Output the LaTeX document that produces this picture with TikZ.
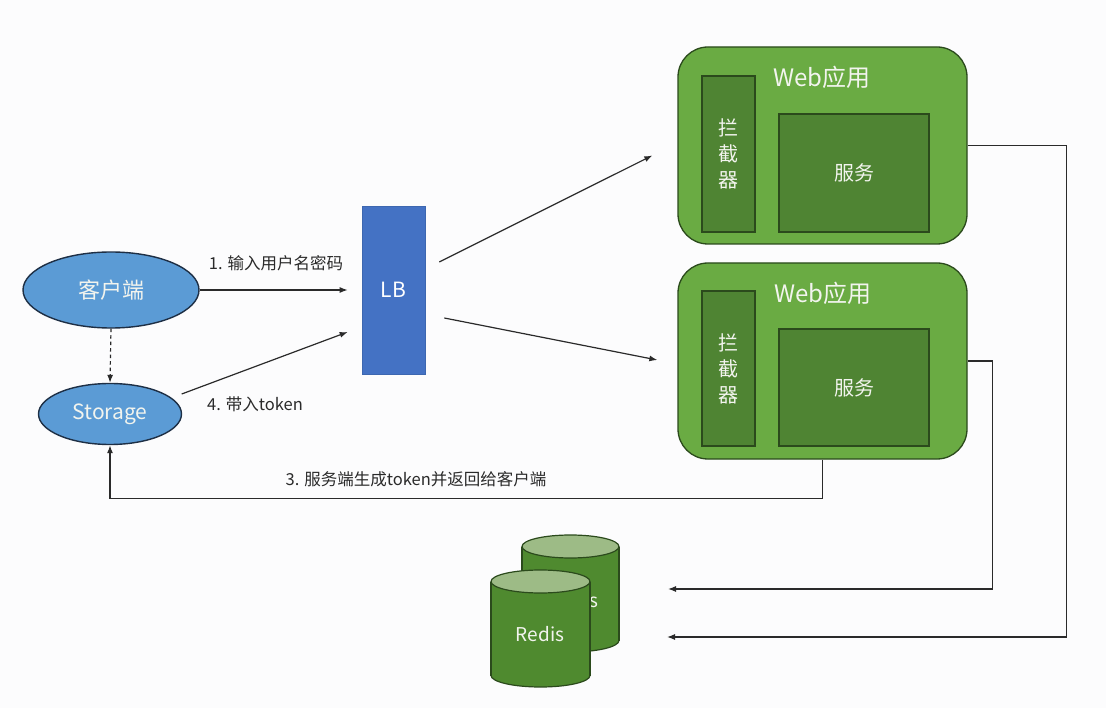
\documentclass[tikz,border=0pt]{standalone}
\usepackage{fontspec}
\setmainfont{Noto Sans CJK SC}
\usetikzlibrary{arrows.meta,calc,shapes.geometric}
\definecolor{bgc}{HTML}{FCFCFD}
\definecolor{ellfill}{HTML}{5B9BD5}
\definecolor{ellline}{HTML}{1E2F45}
\definecolor{lbfill}{HTML}{4472C4}
\definecolor{webfill}{HTML}{6AAB43}
\definecolor{webline}{HTML}{2B4A1C}
\definecolor{innerfill}{HTML}{4F8433}
\definecolor{cylbody}{HTML}{4F8A2F}
\definecolor{cyltop}{HTML}{9DBB86}
\definecolor{linec}{HTML}{2A2A2A}
\definecolor{labc}{HTML}{2A2A2A}
\definecolor{wtxt}{HTML}{F2F4EE}
\begin{document}
\begin{tikzpicture}[x=1pt,y=-1pt,
  ellnode/.style={ellipse,draw=ellline,line width=1.4pt,fill=ellfill,inner sep=0pt,text=wtxt},
  lbbox/.style={rectangle,fill=lbfill,draw=lbfill!90!black,line width=0.6pt,inner sep=0pt,minimum width=63pt,minimum height=168pt,text=white,font=\fontsize{21}{24}\selectfont},
  webbox/.style={rectangle,rounded corners=30pt,fill=webfill,draw=webline,line width=1.3pt,inner sep=0pt,minimum width=289pt},
  innerbox/.style={rectangle,fill=innerfill,draw=webline,line width=1.1pt,inner sep=0pt,text=wtxt,font=\fontsize{20}{26}\selectfont,align=center},
  webtitle/.style={text=wtxt,font=\fontsize{24}{28}\selectfont,inner sep=0pt},
  arr/.style={draw=linec,line width=1.2pt,-{Latex[length=8pt,width=6pt]}},
  lab/.style={text=labc,font=\fontsize{16.5}{19}\selectfont,inner sep=0pt},
  cylline/.style={draw=webline,line width=1.2pt},
  redtxt/.style={text=wtxt,font=\fontsize{19}{22}\selectfont,inner sep=0pt}
]
\fill[bgc] (0,0) rectangle (1106,708);
\useasboundingbox (0,0) rectangle (1106,708);

% client side
\node[ellnode,minimum width=176pt,minimum height=76pt,font=\fontsize{22}{26}\selectfont] (client) at (111,290) {客户端};
\node[ellnode,minimum width=143pt,minimum height=61pt,font=\fontsize{21}{24}\selectfont] (storage) at (110,414) {Storage};
\node[lbbox] (lb) at (393.5,290) {LB};

% web apps
\node[webbox,minimum height=197pt] (web1) at (822.5,145.5) {};
\node[innerbox,minimum width=53pt,minimum height=156pt] (int1) at (728.5,154) {拦\\截\\器};
\node[innerbox,minimum width=150pt,minimum height=118pt] (svc1) at (854,173) {服务};
\node[webtitle] (t1) at (822,77) {Web应用};

\node[webbox,minimum height=196pt] (web2) at (822.5,361) {};
\node[innerbox,minimum width=53pt,minimum height=155pt] (int2) at (728.5,368.5) {拦\\截\\器};
\node[innerbox,minimum width=150pt,minimum height=117pt] (svc2) at (854,387.5) {服务};
\node[webtitle] (t2) at (823,293) {Web应用};

% redis cylinders (back)
\filldraw[fill=cylbody,cylline] (570.5,640.5) ellipse [x radius=48.5pt, y radius=11.5pt];
\fill[cylbody] (522,546.5) rectangle (619,640.5);
\draw[cylline] (522,546.5) -- (522,640.5) (619,546.5) -- (619,640.5);
\node[redtxt] (redisb) at (574,600) {Redis};
\filldraw[fill=cyltop,cylline] (570.5,546.5) ellipse [x radius=48.5pt, y radius=11.5pt];
% front
\filldraw[fill=cylbody,cylline] (540.5,675.5) ellipse [x radius=49.5pt, y radius=11.5pt];
\fill[cylbody] (491,581.5) rectangle (590,675.5);
\draw[cylline] (491,581.5) -- (491,675.5) (590,581.5) -- (590,675.5);
\filldraw[fill=cyltop,cylline] (540.5,581.5) ellipse [x radius=49.5pt, y radius=11.5pt];
\node[redtxt] (redis) at (540,634) {Redis};

% connectors
\draw[arr,dash pattern=on 3.5pt off 3pt] (client.south) -- (storage.north);
\draw[arr] (client.east) -- ($(lb.west)+(-14,0)$);
\node[lab] (l1) at (276,263) {1. 输入用户名密码};
\draw[arr] ($(storage.east)+(-0.5,-20)$) -- ($(lb.west)+(-14,42)$);
\node[lab] (l4) at (255,404) {4. 带入token};

\draw[arr] ($(lb.east)+(14,-28)$) -- ($(web1.west)+(-25,10)$);
\draw[arr] ($(lb.east)+(19,28)$) -- ($(web2.west)+(-20,-1)$);

\draw[arr] (web2.south) -- ++(0,39) -| (storage.south);
\node[lab] (l3) at (416,479) {3. 服务端生成token并返回给客户端};

\coordinate (r1) at (667,637);
\coordinate (r2) at (668,589);
\draw[arr] (web1.east) -- ++(99,0) |- (r1);
\draw[arr] (web2.east) -- ++(25,0) |- (r2);
\end{tikzpicture}
\end{document}
